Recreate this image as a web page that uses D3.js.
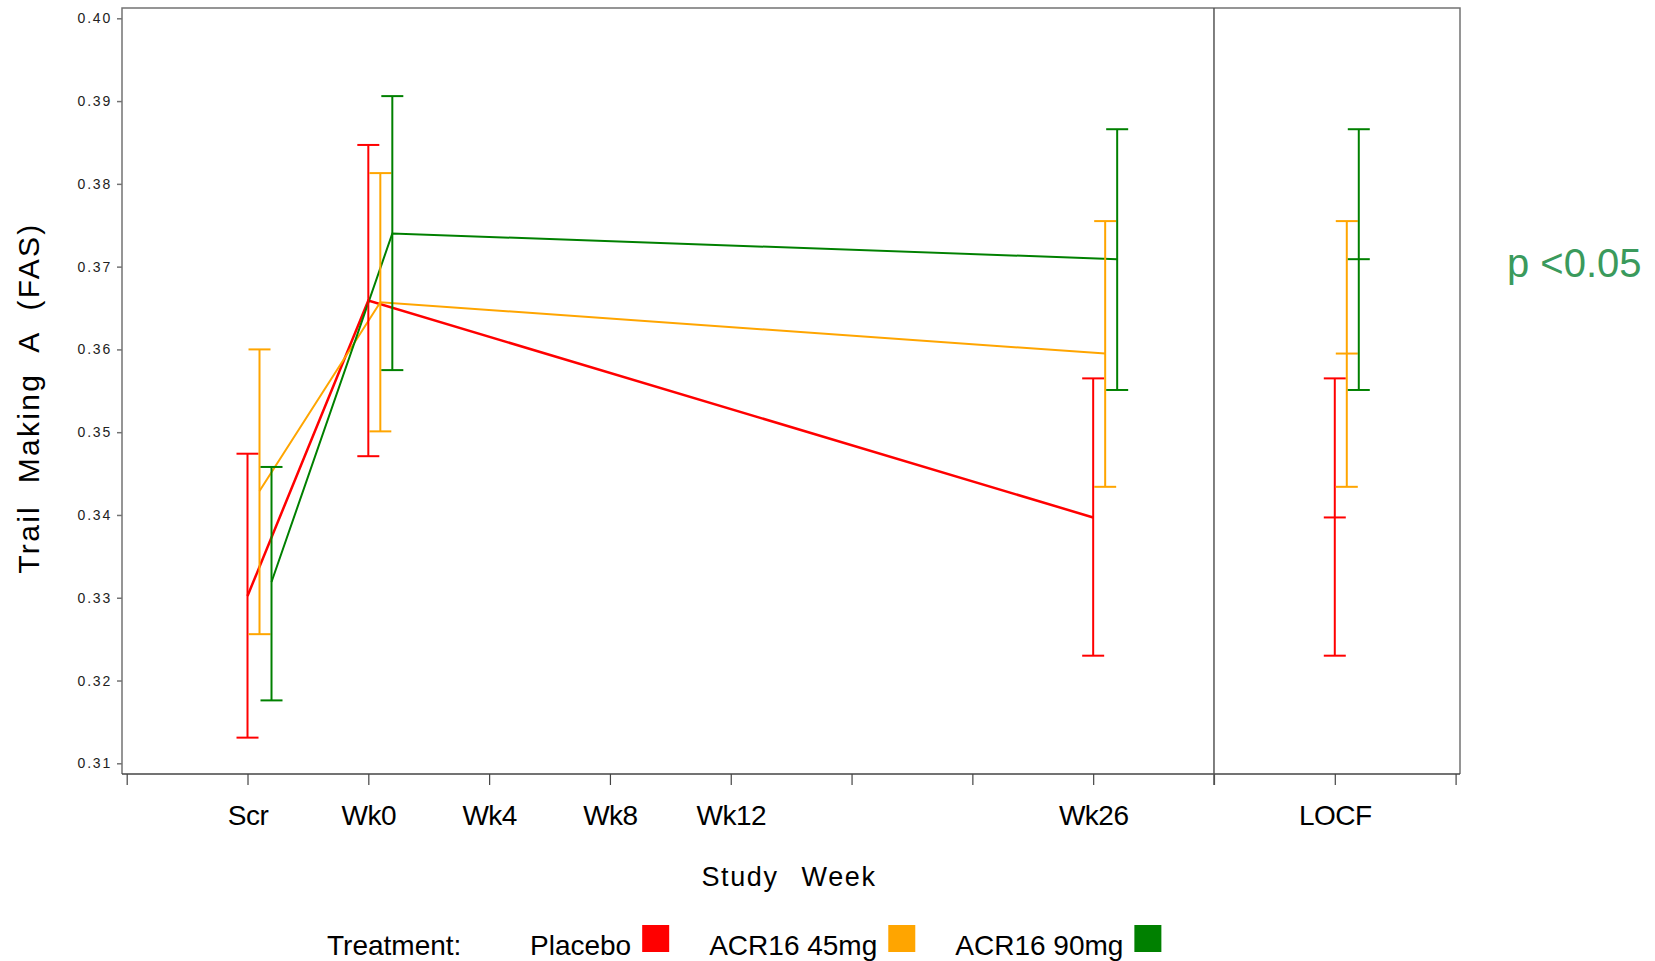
<!DOCTYPE html>
<html>
<head>
<meta charset="utf-8">
<script src="https://cdn.jsdelivr.net/npm/d3@7"></script>
<style>
  body { margin: 0; background: #fff; }
  svg text { font-family: "Liberation Sans", Arial, sans-serif; }
</style>
</head>
<body>
<div id="chart"></div>
<script>
// x axis slots, one label per tick
let xTickLabels = ["", "Scr", "Wk0", "Wk4", "Wk8", "Wk12", "", "", "Wk26", "", "LOCF", ""];
let yTicks = [0.31, 0.32, 0.33, 0.34, 0.35, 0.36, 0.37, 0.38, 0.39, 0.40];

// visits with data
let visits = ["Scr", "Wk0", "Wk26", "LOCF"];

let seriesNames = ["Placebo", "ACR16 45mg", "ACR16 90mg"];
let seriesColors = ["#ff0000", "#ffa500", "#008000"];

let placeboMean  = [0.3302, 0.3659, 0.3397, 0.3397];
let placeboLower = [0.3131, 0.3471, 0.3230, 0.3230];
let placeboUpper = [0.3474, 0.3847, 0.3565, 0.3565];

let acr45Mean  = [0.3429, 0.3657, 0.3595, 0.3595];
let acr45Lower = [0.3256, 0.3501, 0.3434, 0.3434];
let acr45Upper = [0.3600, 0.3813, 0.3755, 0.3755];

let acr90Mean  = [0.3319, 0.3740, 0.3709, 0.3709];
let acr90Lower = [0.3176, 0.3575, 0.3551, 0.3551];
let acr90Upper = [0.3458, 0.3906, 0.3866, 0.3866];

let means  = [placeboMean, acr45Mean, acr90Mean];
let lowers = [placeboLower, acr45Lower, acr90Lower];
let uppers = [placeboUpper, acr45Upper, acr90Upper];

let width = 1655;
let height = 961;
let frame = { left: 122, right: 1460, top: 8, bottom: 774 };
let dodge = 12;     // px between treatment groups
let capHalf = 11;

let svg = d3.select("#chart").append("svg")
  .attr("width", width)
  .attr("height", height);

let x = d3.scaleLinear()
  .domain([0, xTickLabels.length - 1])
  .range([126.7, 1455.6]);

let y = d3.scaleLinear()
  .domain([0.31, 0.40])
  .range([763.3, 18.3]);

function slot(v) {
  return xTickLabels.indexOf(v);
}

// frame
svg.append("path")
  .attr("d", "M" + frame.left + "," + frame.bottom + "V" + frame.top + "H" + frame.right + "V" + frame.bottom)
  .attr("fill", "none")
  .attr("stroke", "#737373")
  .attr("stroke-width", 1.5);

// y axis
let yAxis = svg.append("g")
  .attr("transform", "translate(" + frame.left + ",0)")
  .call(d3.axisLeft(y).tickValues(yTicks).tickSize(5).tickPadding(5).tickFormat(d3.format(".2f")));
yAxis.select(".domain").remove();
yAxis.selectAll(".tick line").attr("stroke", "#737373").attr("stroke-width", 1.5);
yAxis.selectAll(".tick text")
  .attr("font-size", 14)
  .attr("letter-spacing", 1.8)
  .attr("fill", "#222");

// x axis
let xAxis = svg.append("g")
  .attr("transform", "translate(0," + frame.bottom + ")")
  .call(d3.axisBottom(x).tickValues(d3.range(xTickLabels.length))
    .tickSize(11).tickPadding(20).tickFormat(function(i) { return xTickLabels[i]; }));
xAxis.select(".domain").remove();
xAxis.selectAll(".tick line").attr("stroke", "#444").attr("stroke-width", 1.2);
xAxis.selectAll(".tick text")
  .attr("font-size", 28)
  .attr("letter-spacing", -0.5)
  .attr("fill", "#000");

svg.append("line")
  .attr("x1", frame.left).attr("x2", frame.right)
  .attr("y1", frame.bottom).attr("y2", frame.bottom)
  .attr("stroke", "#444")
  .attr("stroke-width", 1.5);

// divider before LOCF
let divX = x(slot("LOCF") - 1);
svg.append("line")
  .attr("x1", divX).attr("x2", divX)
  .attr("y1", frame.top).attr("y2", frame.bottom + 11)
  .attr("stroke", "#555")
  .attr("stroke-width", 1.5);

// lines through means (not LOCF)
let lineVisits = visits.filter(function(v) { return v != "LOCF"; });
seriesNames.forEach(function(name, s) {
  let line = d3.line()
    .x(function(v) { return x(slot(v)) + s * dodge; })
    .y(function(v) { return y(means[s][visits.indexOf(v)]); });

  svg.append("path")
    .datum(lineVisits)
    .attr("d", line)
    .attr("fill", "none")
    .attr("stroke", seriesColors[s])
    .attr("stroke-width", s == 0 ? 2.5 : 2);
});

// error bars
seriesNames.forEach(function(name, s) {
  let g = svg.append("g").attr("stroke", seriesColors[s]).attr("stroke-width", 2);
  visits.forEach(function(v, i) {
    let cx = x(slot(v)) + s * dodge;
    let y0 = y(lowers[s][i]);
    let y1 = y(uppers[s][i]);
    g.append("line").attr("x1", cx).attr("x2", cx).attr("y1", y0).attr("y2", y1);
    g.append("line").attr("x1", cx - capHalf).attr("x2", cx + capHalf).attr("y1", y0).attr("y2", y0);
    g.append("line").attr("x1", cx - capHalf).attr("x2", cx + capHalf).attr("y1", y1).attr("y2", y1);
    if (v == "LOCF") {
      let ym = y(means[s][i]);
      g.append("line").attr("x1", cx - capHalf).attr("x2", cx + capHalf).attr("y1", ym).attr("y2", ym);
    }
  });
});

// axis titles
svg.append("text")
  .attr("transform", "translate(38.5,398) rotate(-90)")
  .attr("text-anchor", "middle")
  .attr("font-size", 30)
  .attr("letter-spacing", 2.3)
  .attr("word-spacing", 11)
  .text("Trail Making A (FAS)");

svg.append("text")
  .attr("x", 789)
  .attr("y", 886)
  .attr("text-anchor", "middle")
  .attr("font-size", 27)
  .attr("letter-spacing", 1.6)
  .attr("word-spacing", 14)
  .text("Study Week");

// p value note
svg.append("text")
  .attr("x", 1507)
  .attr("y", 277)
  .attr("font-size", 40)
  .attr("fill", "#3a9a5c")
  .text("p <0.05");

// legend
let legend = svg.append("g").attr("font-size", 28);
legend.append("text").attr("x", 327).attr("y", 955).text("Treatment:");
let lx = 530;
seriesNames.forEach(function(name, s) {
  let t = legend.append("text").attr("x", lx).attr("y", 955).text(name);
  let w = t.node().getComputedTextLength();
  legend.append("rect")
    .attr("x", lx + w + 11)
    .attr("y", 925)
    .attr("width", 27)
    .attr("height", 27)
    .attr("fill", seriesColors[s]);
  lx = lx + w + 11 + 27 + 40;
});
</script>
</body>
</html>
